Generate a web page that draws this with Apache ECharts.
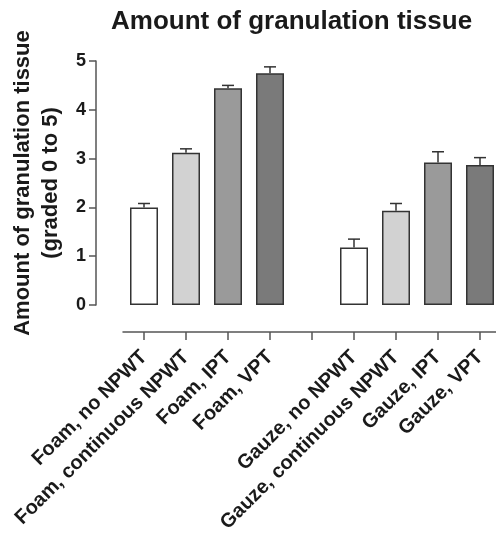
<!DOCTYPE html>
<html>
<head>
<meta charset="utf-8">
<script src="https://cdn.jsdelivr.net/npm/echarts@6/dist/echarts.min.js"></script>
<style>html,body{margin:0;padding:0;background:#fff}#c{width:496px;height:538px}</style>
</head>
<body>
<div id="c"></div>
<script>
const categories = ['Foam, no NPWT', 'Foam, continuous NPWT', 'Foam, IPT', 'Foam, VPT', '',
  'Gauze, no NPWT', 'Gauze, continuous NPWT', 'Gauze, IPT', 'Gauze, VPT'];
const means = [2.0, 3.12, 4.44, 4.75, null, 1.18, 1.93, 2.92, 2.87];
const errors = [0.08, 0.08, 0.06, 0.13, null, 0.17, 0.15, 0.22, 0.15];
const barColors = ['#ffffff', '#d2d2d2', '#9a9a9a', '#7a7a7a', null, '#ffffff', '#d2d2d2', '#9a9a9a', '#7a7a7a'];
const yTicks = [0, 1, 2, 3, 4, 5];

const FONT = 'Liberation Sans, Arial, sans-serif';
const chart = echarts.init(document.getElementById('c'), null, {renderer: 'canvas'});

const barData = means.map((v, i) => v == null ? '-' : {
  value: v,
  itemStyle: {color: barColors[i]}
});
const errData = [];
means.forEach((v, i) => { if (v != null) errData.push([i, v, errors[i]]); });

chart.setOption({
  animation: false,
  backgroundColor: '#fff',
  title: {
    text: 'Amount of granulation tissue',
    left: 106, top: 4,
    textStyle: {fontFamily: FONT, fontWeight: 'bold', fontSize: 26, color: '#1a1a1a'}
  },
  grid: {left: 123, top: 61, width: 378, height: 244, containLabel: false, outerBoundsMode: 'none'},
  xAxis: {
    type: 'category',
    data: categories,
    offset: 27,
    axisLine: {onZero: false, lineStyle: {color: '#555', width: 1.5}},
    axisTick: {show: true, inside: false, alignWithLabel: true, length: 8, interval: 0,
      lineStyle: {color: '#555', width: 1.5}},
    axisLabel: {interval: 0, rotate: 45, margin: 22, fontFamily: FONT, fontWeight: 'bold',
      fontSize: 20, color: '#1a1a1a'}
  },
  yAxis: {
    type: 'value',
    min: yTicks[0], max: yTicks[yTicks.length - 1], interval: 1,
    offset: 27,
    name: 'Amount of granulation tissue\n(graded 0 to 5)',
    nameLocation: 'middle',
    nameRotate: 90,
    nameGap: 23,
    nameTextStyle: {fontFamily: FONT, fontWeight: 'bold', fontSize: 22, lineHeight: 28, color: '#1a1a1a'},
    axisLine: {show: true, onZero: false, lineStyle: {color: '#555', width: 1.5}},
    axisTick: {show: true, length: 7, lineStyle: {color: '#555', width: 1.5}},
    splitLine: {show: false},
    axisLabel: {margin: 10, fontFamily: FONT, fontWeight: 'bold', fontSize: 18, color: '#1a1a1a'}
  },
  series: [
    {
      type: 'bar',
      data: barData,
      barWidth: 28,
      itemStyle: {borderColor: '#333', borderWidth: 1.5},
      z: 2
    },
    {
      type: 'custom',
      data: errData,
      z: 3,
      renderItem: function (params, api) {
        const i = api.value(0), m = api.value(1), e = api.value(2);
        const p0 = api.coord([i, m]);
        const p1 = api.coord([i, m + e]);
        const hw = 6;
        const st = {stroke: '#333', lineWidth: 1.5};
        return {
          type: 'group',
          children: [
            {type: 'line', shape: {x1: p0[0], y1: p0[1], x2: p1[0], y2: p1[1]}, style: st},
            {type: 'line', shape: {x1: p1[0] - hw, y1: p1[1], x2: p1[0] + hw, y2: p1[1]}, style: st}
          ]
        };
      }
    }
  ]
});
</script>
</body>
</html>
